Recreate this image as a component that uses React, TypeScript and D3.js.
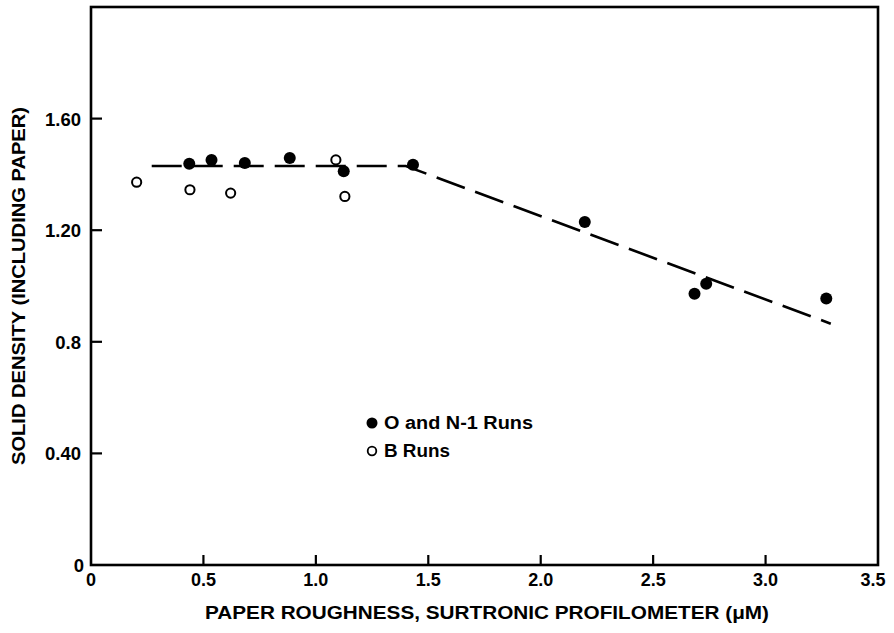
import React from "react";
import * as d3 from "d3";

const filledX = [0.437, 0.536, 0.684, 0.884, 1.124, 1.432, 2.196, 2.684, 2.736, 3.27];
const filledY = [1.438, 1.452, 1.441, 1.459, 1.411, 1.435, 1.229, 0.972, 1.008, 0.955];
const openX = [0.203, 0.44, 0.621, 1.089, 1.129];
const openY = [1.372, 1.345, 1.333, 1.452, 1.321];
const fitX = [0.27, 1.4, 3.29];
const fitY = [1.43, 1.43, 0.865];
const xTicks = [0, 0.5, 1.0, 1.5, 2.0, 2.5, 3.0, 3.5];
const xTickLabels = ["0", "0.5", "1.0", "1.5", "2.0", "2.5", "3.0", "3.5"];
const yTicks = [0, 0.4, 0.8, 1.2, 1.6];
const yTickLabels = ["0", "0.40", "0.8", "1.20", "1.60"];
const legendLabels = ["O and N-1 Runs", "B Runs"];
const xTitle = "PAPER ROUGHNESS, SURTRONIC PROFILOMETER (\u03BCM)";
const yTitle = "SOLID DENSITY (INCLUDING PAPER)";

const W = 894;
const H = 633;
const L = 91, R = 878, T = 7, B = 565;
const FONT = "'Liberation Sans', Arial, Helvetica, sans-serif";

export default function App() {
  const x = d3.scaleLinear().domain([0, 3.5]).range([L, R]);
  const y = d3.scaleLinear().domain([0, 2.0]).range([B, T]);
  const line = d3.line<number>().x((d, i) => x(fitX[i])).y((d, i) => y(fitY[i]));
  return (
    <svg width={W} height={H} style={{ position: "absolute", left: 0, top: 0, background: "#fff" }}
      fontFamily={FONT} fontWeight="bold">
      <rect x={0} y={0} width={W} height={H} fill="#fff" />
      <rect x={L} y={T} width={R - L} height={B - T} fill="none" stroke="#000" strokeWidth={2.6} />
      {xTicks.map((t, i) => (
        <g key={"xt" + i}>
          {i > 0 && i < xTicks.length - 1 && (
            <line x1={x(t)} x2={x(t)} y1={B} y2={B - 10} stroke="#000" strokeWidth={2.2} />
          )}
          <text x={i === xTicks.length - 1 ? x(t) - 5 : x(t)} y={586} textAnchor="middle" fontSize={18}>
            {xTickLabels[i]}
          </text>
        </g>
      ))}
      {yTicks.map((t, i) => (
        <g key={"yt" + i}>
          {i > 0 && <line x1={L} x2={L + 11} y1={y(t)} y2={y(t)} stroke="#000" strokeWidth={2.2} />}
          <text x={i === 0 ? 84 : 81} y={y(t) + 7} textAnchor="end" fontSize={18.5}>
            {yTickLabels[i]}
          </text>
        </g>
      ))}
      <path d={line(fitX) || ""} fill="none" stroke="#000" strokeWidth={2.6} strokeDasharray="30 11" />
      {filledX.map((v, i) => (
        <circle key={"f" + i} cx={x(v)} cy={y(filledY[i])} r={6} fill="#000" />
      ))}
      {openX.map((v, i) => (
        <circle key={"o" + i} cx={x(v)} cy={y(openY[i])} r={4.6} fill="#fff" stroke="#000" strokeWidth={2} />
      ))}
      <circle cx={372} cy={423} r={5.5} fill="#000" />
      <text x={384} y={429} fontSize={18} textLength={149} lengthAdjust="spacingAndGlyphs">{legendLabels[0]}</text>
      <circle cx={372} cy={451} r={4.3} fill="#fff" stroke="#000" strokeWidth={1.8} />
      <text x={384} y={457} fontSize={18} textLength={66} lengthAdjust="spacingAndGlyphs">{legendLabels[1]}</text>
      <text x={487} y={619} textAnchor="middle" fontSize={19} textLength={564} lengthAdjust="spacingAndGlyphs">{xTitle}</text>
      <text transform={`translate(25, ${286}) rotate(-90)`} textAnchor="middle" fontSize={19}
        textLength={358} lengthAdjust="spacingAndGlyphs">{yTitle}</text>
    </svg>
  );
}
